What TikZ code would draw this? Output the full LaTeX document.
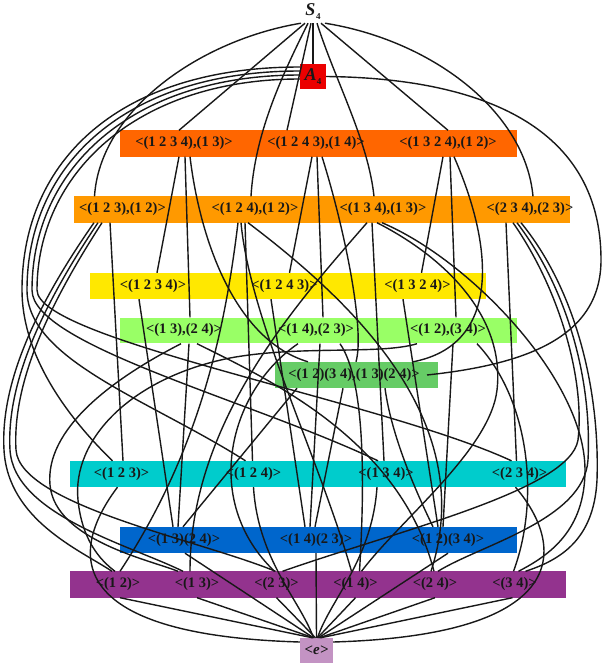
\documentclass[tikz,border=0pt]{standalone}
\usepackage{fontspec}
\setmainfont{Liberation Serif}
\definecolor{cA}{RGB}{235,0,0}
\definecolor{cD}{RGB}{255,102,0}
\definecolor{cS}{RGB}{255,153,0}
\definecolor{cC}{RGB}{255,232,0}
\definecolor{cK}{RGB}{153,255,102}
\definecolor{cV}{RGB}{102,204,102}
\definecolor{cT}{RGB}{0,204,204}
\definecolor{cB}{RGB}{0,102,204}
\definecolor{cP}{RGB}{147,51,142}
\definecolor{cE}{RGB}{195,147,195}
\definecolor{ink}{RGB}{24,24,24}
\begin{document}
\begin{tikzpicture}[x=1pt,y=-1pt,
  lab/.style={font=\bfseries\fontsize{14.5}{15}\selectfont, inner sep=0pt, minimum height=26pt, text=ink},
  big/.style={font=\bfseries\itshape\fontsize{18}{18}\selectfont, inner sep=0pt, text=ink},
  ln/.style={line width=1.4pt, draw=ink},
]
\useasboundingbox (0,0) rectangle (603,665);
% bands
\fill[cD] (120,130) rectangle (517,157);
\fill[cS] (74,196) rectangle (570,223);
\fill[cC] (90,273) rectangle (486,299);
\fill[cK] (120,318) rectangle (517,343);
\fill[cV] (275,362) rectangle (438,388);
\fill[cT] (70,461) rectangle (566,487);
\fill[cB] (120,527) rectangle (517,553);
\fill[cP] (70,571) rectangle (566,598);
% nodes
\node[big, minimum height=22pt] (s4) at (313,12) {S\kern0.5pt\raisebox{-4pt}{\upshape\fontsize{9}{9}\selectfont 4}};
\node[big, fill=cA, minimum width=26pt, minimum height=25pt] (a4) at (313,76.5) {A\raisebox{-4pt}{\upshape\fontsize{9}{9}\selectfont 4}};
\node[lab] (d1) at (184,143.5) {<(1 2 3 4),(1 3)>};
\node[lab] (d2) at (316,143.5) {<(1 2 4 3),(1 4)>};
\node[lab] (d3) at (448,143.5) {<(1 3 2 4),(1 2)>};
\node[lab] (s3a) at (122.5,209.5) {<(1 2 3),(1 2)>};
\node[lab] (s3b) at (255,209.5) {<(1 2 4),(1 2)>};
\node[lab] (s3c) at (383,209.5) {<(1 3 4),(1 3)>};
\node[lab] (s3d) at (530,209.5) {<(2 3 4),(2 3)>};
\node[lab] (c4a) at (153,286) {<(1 2 3 4)>};
\node[lab] (c4b) at (284.5,286) {<(1 2 4 3)>};
\node[lab] (c4c) at (417.5,286) {<(1 3 2 4)>};
\node[lab] (ka) at (184,330.5) {<(1 3),(2 4)>};
\node[lab] (kb) at (316,330.5) {<(1 4),(2 3)>};
\node[lab] (kc) at (448,330.5) {<(1 2),(3 4)>};
\node[lab] (v4) at (354,375) {<(1 2)(3 4),(1 3)(2 4)>};
\node[lab] (c3a) at (121.5,474) {<(1 2 3)>};
\node[lab] (c3b) at (253.5,474) {<(1 2 4)>};
\node[lab] (c3c) at (386,474) {<(1 3 4)>};
\node[lab] (c3d) at (519.5,474) {<(2 3 4)>};
\node[lab] (da) at (184,540) {<(1 3)(2 4)>};
\node[lab] (db) at (316,540) {<(1 4)(2 3)>};
\node[lab] (dc) at (448,540) {<(1 2)(3 4)>};
\node[lab] (t12) at (118,584.5) {<(1 2)>};
\node[lab] (t13) at (197,584.5) {<(1 3)>};
\node[lab] (t23) at (276.5,584.5) {<(2 3)>};
\node[lab] (t14) at (355.5,584.5) {<(1 4)>};
\node[lab] (t24) at (435,584.5) {<(2 4)>};
\node[lab] (t34) at (514.5,584.5) {<(3 4)>};
\node[lab, fill=cE, minimum width=33pt, minimum height=25pt, font=\bfseries\itshape\fontsize{15}{15}\selectfont] (e) at (316.5,650.5) {<e>};
% S4
\draw[ln] ([xshift=-12]s4.south) .. controls (200,40) and (100,110) .. ([xshift=-28]s3a.north);
\draw[ln] ([xshift=-8]s4.south) -- ([xshift=-5]d1.north);
\draw[ln] ([xshift=-5]s4.south) .. controls (285,70) and (255,130) .. ([xshift=-4]s3b.north);
\draw[ln] ([xshift=-2]s4.south) -- ([xshift=-29]d2.north);
\draw[ln] (s4.south) -- (a4.north);
\draw[ln] ([xshift=4]s4.south) .. controls (335,80) and (368,140) .. ([xshift=-9]s3c.north);
\draw[ln] ([xshift=8]s4.south) -- (d3.north);
\draw[ln] ([xshift=12]s4.south) .. controls (430,40) and (525,110) .. ([xshift=3]s3d.north);
% A4
\draw[ln] ([yshift=9.5]a4.west) .. controls (120,67) and (22,160) .. (22,290) .. controls (22,350) and (60,410) .. ([xshift=-9]c3a.north);
\draw[ln] ([yshift=5.5]a4.west) .. controls (125,71) and (27,165) .. (27,290) .. controls (27,360) and (150,400) .. ([xshift=-8]c3b.north);
\draw[ln] ([yshift=1.5]a4.west) .. controls (130,75) and (32,170) .. (32,290) .. controls (32,345) and (250,400) .. ([xshift=-8]c3c.north);
\draw[ln] ([yshift=-2.5]a4.west) .. controls (135,79) and (37,175) .. (37,290) .. controls (37,340) and (380,400) .. ([xshift=-8]c3d.north);
\draw[ln] (a4.east) .. controls (470,78) and (601,120) .. (601,260) .. controls (601,340) and (520,365) .. ([xshift=73]v4.center);
% D4
\draw[ln] ([xshift=-5]d1.south) -- ([xshift=4]c4a.north);
\draw[ln] ([xshift=1]d1.south) -- ([xshift=6]ka.north);
\draw[ln] ([xshift=6]d1.south) .. controls (200,240) and (235,340) .. ([xshift=-46]v4.north);
\draw[ln] ([xshift=-4]d2.south) -- ([xshift=5]c4b.north);
\draw[ln] ([xshift=1]d2.south) -- ([xshift=7]kb.north);
\draw[ln] ([xshift=6]d2.south) .. controls (345,230) and (365,330) .. ([xshift=2]v4.north);
\draw[ln] ([xshift=-5]d3.south) -- ([xshift=4]c4c.north);
\draw[ln] ([xshift=2]d3.south) -- ([xshift=8]kc.north);
\draw[ln] ([xshift=6]d3.south) .. controls (495,250) and (500,345) .. ([xshift=59]v4.north);
% S3 a
\draw[ln] ([xshift=-12.5]s3a.south) -- ([xshift=1.5]c3a.north);
\draw[ln] ([xshift=-28.5]s3a.south) .. controls (40,300) and (0,380) .. (4,450) .. controls (8,520) and (80,550) .. ([xshift=-6]t12.north);
\draw[ln] ([xshift=-24.5]s3a.south) .. controls (46,300) and (6,380) .. (10,450) .. controls (14,515) and (130,545) .. ([xshift=-14]t13.north);
\draw[ln] ([xshift=-20.5]s3a.south) .. controls (52,300) and (12,380) .. (16,450) .. controls (20,505) and (200,540) .. ([xshift=-1]t23.north);
% S3 b
\draw[ln] ([xshift=-17]s3b.south) .. controls (225,330) and (200,450) .. ([xshift=2]t12.north);
\draw[ln] ([xshift=-14]s3b.south) .. controls (250,320) and (320,460) .. ([xshift=-4]t14.north);
\draw[ln] ([xshift=-10]s3b.south) -- ([xshift=-1]c3b.north);
\draw[ln] ([xshift=-7]s3b.south) .. controls (350,300) and (480,420) .. ([xshift=-4]t24.north);
% S3 c
\draw[ln] ([xshift=-16]s3c.south) .. controls (300,300) and (190,420) .. ([xshift=-7]t13.north);
\draw[ln] ([xshift=-11]s3c.south) -- ([xshift=-2]c3c.north);
\draw[ln] ([xshift=-6]s3c.south) .. controls (450,260) and (505,320) .. (497,390) .. controls (490,450) and (400,520) .. ([xshift=6]t14.north);
\draw[ln] ([xshift=-1]s3c.south) .. controls (470,260) and (585,380) .. (585,470) .. controls (585,530) and (550,555) .. ([xshift=4]t34.north);
% S3 d
\draw[ln] ([xshift=-24]s3d.south) -- ([xshift=-3]c3d.north);
\draw[ln] ([xshift=-17]s3d.south) .. controls (560,290) and (585,380) .. (578,440) .. controls (570,490) and (400,530) .. ([xshift=6]t23.north);
\draw[ln] ([xshift=-13]s3d.south) .. controls (568,290) and (592,380) .. (588,460) .. controls (584,520) and (480,545) .. ([xshift=3]t24.north);
\draw[ln] ([xshift=-9]s3d.south) .. controls (576,290) and (600,390) .. (597,480) .. controls (594,540) and (560,560) .. ([xshift=11]t34.north);
% C4
\draw[ln] ([xshift=-14]c4a.south) -- ([xshift=-11]da.north);
\draw[ln] ([xshift=-13.5]c4b.south) -- ([xshift=-11]db.north);
\draw[ln] ([xshift=-14.5]c4c.south) -- ([xshift=-10]dc.north);
% Klein
\draw[ln] ([xshift=-3]ka.south) .. controls (110,380) and (45,430) .. (50,485) .. controls (55,540) and (150,560) .. ([xshift=-19]t13.north);
\draw[ln] ([xshift=5]ka.south) -- ([xshift=-6]da.north);
\draw[ln] ([xshift=13]ka.south) .. controls (270,380) and (400,440) .. ([xshift=-1]t24.north);
\draw[ln] ([xshift=-18]kb.south) .. controls (230,390) and (200,500) .. ([xshift=-2]t23.north);
\draw[ln] ([xshift=4]kb.south) -- ([xshift=-6]db.north);
\draw[ln] ([xshift=24]kb.south) .. controls (365,380) and (365,480) .. ([xshift=4]t14.north);
\draw[ln] ([xshift=-31]kc.south) .. controls (380,355) and (300,345) .. (230,358) .. controls (130,378) and (72,440) .. (78,500) .. controls (82,540) and (100,560) .. ([xshift=-3]t12.north);
\draw[ln] ([xshift=5]kc.south) -- ([xshift=-5]dc.north);
\draw[ln] ([xshift=29]kc.south) .. controls (530,400) and (540,500) .. ([xshift=-1]t34.north);
% V4
\draw[ln] ([xshift=-57]v4.south) -- ([xshift=-1]da.north);
\draw[ln] ([xshift=-11]v4.south) -- ([xshift=-1]db.north);
\draw[ln] ([xshift=31]v4.south) .. controls (392,440) and (420,500) .. ([xshift=-15]dc.north);
% C3 -> e
\draw[ln] ([xshift=-4]c3a.south) .. controls (70,550) and (60,635) .. ([yshift=8.5]e.west);
\draw[ln] (c3b.south) .. controls (258,560) and (300,600) .. ([xshift=-3]e.north);
\draw[ln] ([xshift=-9]c3c.south) .. controls (372,560) and (330,600) .. ([xshift=1]e.north);
\draw[ln] ([xshift=-4]c3d.south) .. controls (565,545) and (575,635) .. ([yshift=8.5]e.east);
% C2 -> e
\draw[ln] ([xshift=1]da.south) -- ([xshift=-3]e.north);
\draw[ln] (db.south) -- (e.north);
\draw[ln] (dc.south) -- ([xshift=2]e.north);
\draw[ln] ([xshift=2]t12.south) -- ([xshift=-4]e.north);
\draw[ln] (t13.south) -- ([xshift=-3]e.north);
\draw[ln] (t23.south) -- ([xshift=-1]e.north);
\draw[ln] (t14.south) -- ([xshift=1]e.north);
\draw[ln] (t24.south) -- ([xshift=3]e.north);
\draw[ln] ([xshift=-2]t34.south) -- ([xshift=4]e.north);
\end{tikzpicture}
\end{document}
